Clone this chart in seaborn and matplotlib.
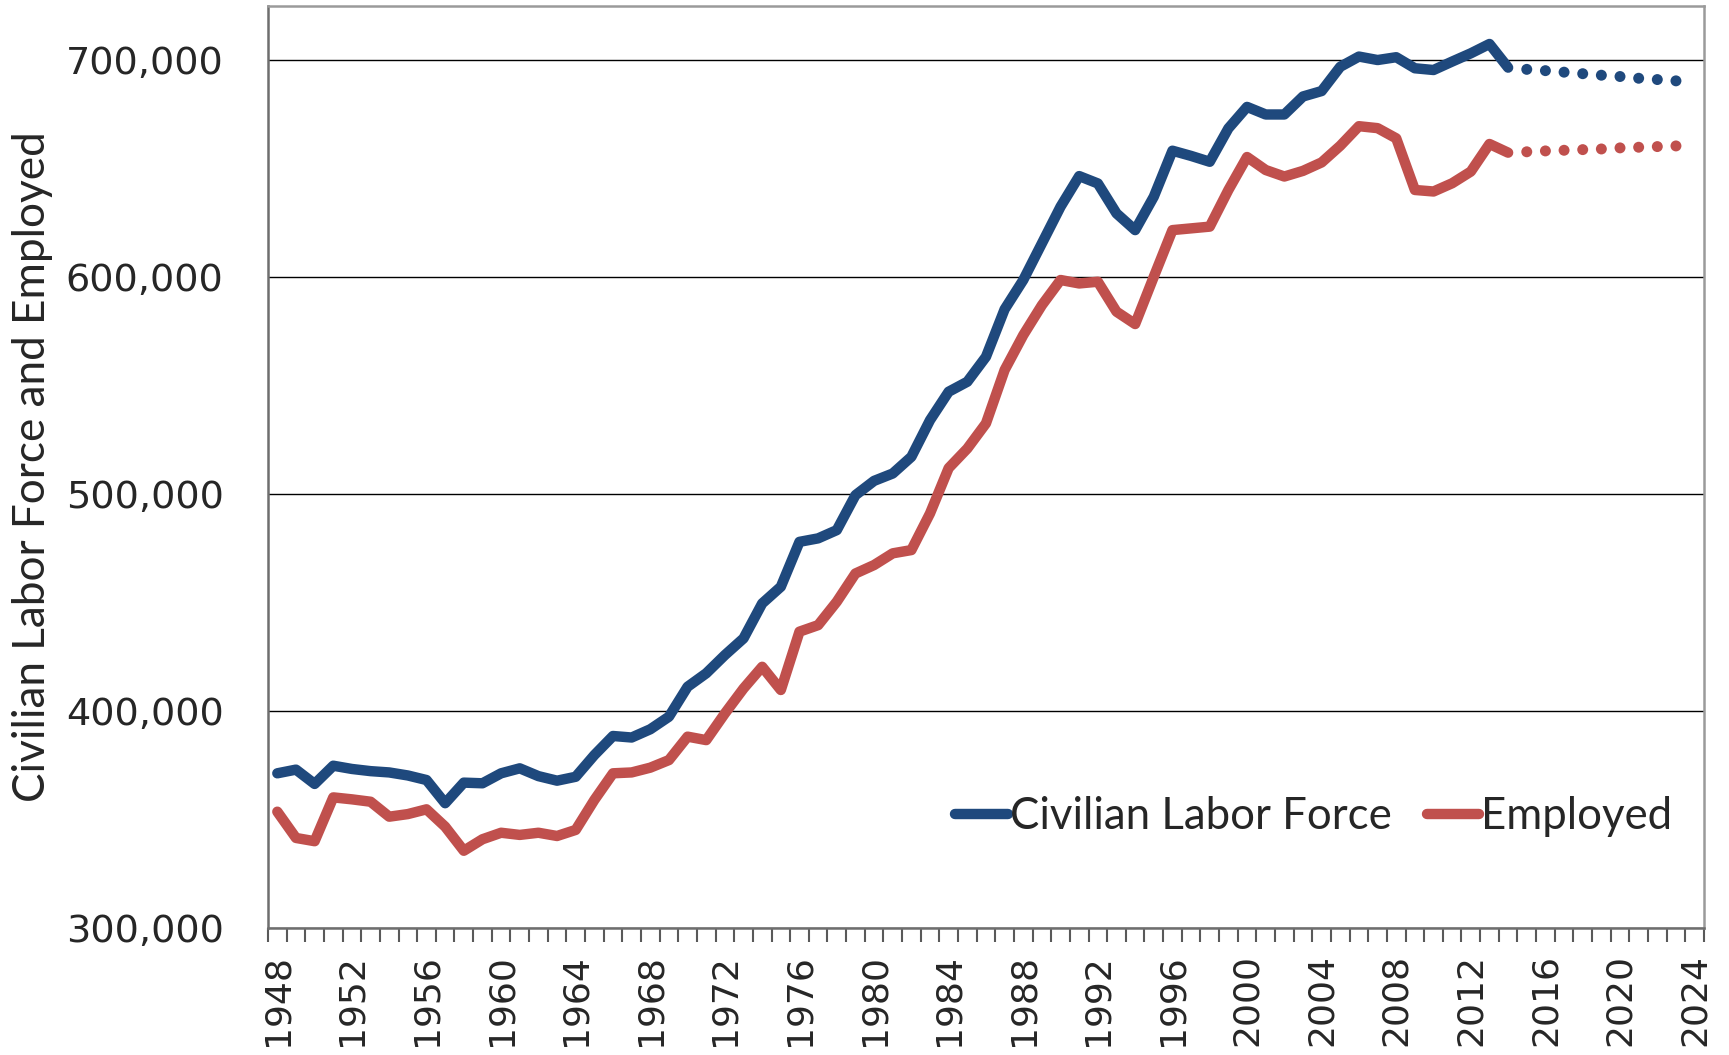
import numpy as np
import pandas as pd
import matplotlib
matplotlib.use('Agg')
import matplotlib.pyplot as plt
from matplotlib.ticker import FuncFormatter
import seaborn as sns

# yearly values
years = list(range(1948, 2015))
labor_force = [
    371300, 373000, 366400, 374800, 373300, 372300, 371700, 370300, 368200, 357500,
    367000, 366700, 371300, 373600, 370000, 367900, 369700, 379700, 388500, 387800,
    391600, 397400, 411200, 417400, 425800, 433500, 449600, 457300, 478000, 479600,
    483400, 499500, 506100, 509500, 517200, 534100, 547200, 551800, 563300, 585200,
    598700, 615600, 632500, 646600, 643200, 629400, 621700, 637100, 658300, 655900,
    653200, 668600, 678500, 675000, 675000, 683300, 685800, 697000, 701700, 700100,
    701400, 696300, 695500, 699400, 703200, 707500, 696600,
]
employed = [
    353600, 341500, 340000, 360200, 359300, 358200, 351300, 352500, 354700, 346700,
    335600, 340900, 343900, 342900, 343900, 342400, 345200, 359000, 371300, 371700,
    373900, 377400, 388200, 386600, 398900, 410400, 420400, 409700, 436600, 439600,
    450400, 463400, 467300, 472700, 474200, 491100, 512000, 521000, 532600, 557200,
    573300, 587100, 598700, 597100, 597900, 584100, 578400, 600200, 621700, 622500,
    623300, 640200, 655400, 649400, 646400, 649000, 652900, 660600, 669600, 668700,
    664000, 640200, 639500, 643300, 648700, 661400, 657400,
]

# projection (dotted part)
proj_years = list(range(2015, 2024))
labor_force_proj = [695800, 695200, 694500, 693800, 693100, 692500, 691700, 691100, 690500]
employed_proj = [657800, 658200, 658500, 658800, 659100, 659600, 659900, 660200, 660500]

BLUE = '#1F497D'
RED = '#C0504D'
colors = {'Civilian Labor Force': BLUE, 'Employed': RED}
LW = 7.5

sns.set_style('white')
plt.rcParams['font.family'] = ['DejaVu Sans']
label_font = ['Lato', 'DejaVu Sans']

hist = pd.DataFrame({'year': years, 'Civilian Labor Force': labor_force, 'Employed': employed})
hist = hist.melt('year', var_name='series', value_name='value')
proj = pd.DataFrame({'year': proj_years, 'Civilian Labor Force': labor_force_proj, 'Employed': employed_proj})
proj = proj.melt('year', var_name='series', value_name='value')

fig, ax = plt.subplots(figsize=(17.29, 10.55), dpi=100)
fig.subplots_adjust(left=0.155, right=0.9855, top=0.9943, bottom=0.1204)

sns.lineplot(data=hist, x='year', y='value', hue='series', palette=colors, linewidth=LW,
             solid_capstyle='round', solid_joinstyle='round', ax=ax, zorder=3)
sns.scatterplot(data=proj, x='year', y='value', hue='series', palette=colors, s=62,
                linewidth=0, legend=False, ax=ax, zorder=3)

ax.set_xlim(1947.5, 2024.5)
ax.set_ylim(300000, 725000)
ax.set_xlabel('')
ax.set_ylabel('')

# y axis
ax.set_yticks([300000, 400000, 500000, 600000, 700000])
ax.yaxis.set_major_formatter(FuncFormatter(lambda v, p: f'{v:,.0f}'))
ax.tick_params(axis='y', length=0, pad=32, labelsize=27.5)
ax.yaxis.grid(True, color='black', linewidth=1.0)
ax.set_axisbelow(True)

# x axis: label every 4 years, tick marks between every year
ax.set_xticks(list(range(1948, 2025, 4)))
ax.set_xticks(np.arange(1947.5, 2025, 1), minor=True)
ax.tick_params(axis='x', which='major', length=0, pad=19, labelsize=26, labelrotation=90)
ax.tick_params(axis='x', which='minor', length=10, width=1.5, color='#595959', bottom=True)

for side in ['left', 'bottom']:
    ax.spines[side].set_color('#6e6e6e')
    ax.spines[side].set_linewidth(1.8)
for side in ['top', 'right']:
    ax.spines[side].set_color('#9a9a9a')
    ax.spines[side].set_linewidth(1.8)

fig.text(33 / 1729, 0.5 + (1055 / 2 - 467) / 1055, 'Civilian Labor Force and Employed',
         rotation=90, ha='center', va='center', fontsize=31.8, family=label_font)

handles, labels = ax.get_legend_handles_labels()
leg = ax.legend(handles, labels, loc='center right', bbox_to_anchor=(0.978, 0.121), ncol=2,
                frameon=False, handlelength=1.2, handletextpad=0.05, columnspacing=0.8,
                borderpad=0, borderaxespad=0, prop={'family': label_font, 'size': 31.5})
for line in leg.get_lines():
    line.set_linewidth(LW)
    line.set_solid_capstyle('round')

fig.savefig('out.png', dpi=100)
